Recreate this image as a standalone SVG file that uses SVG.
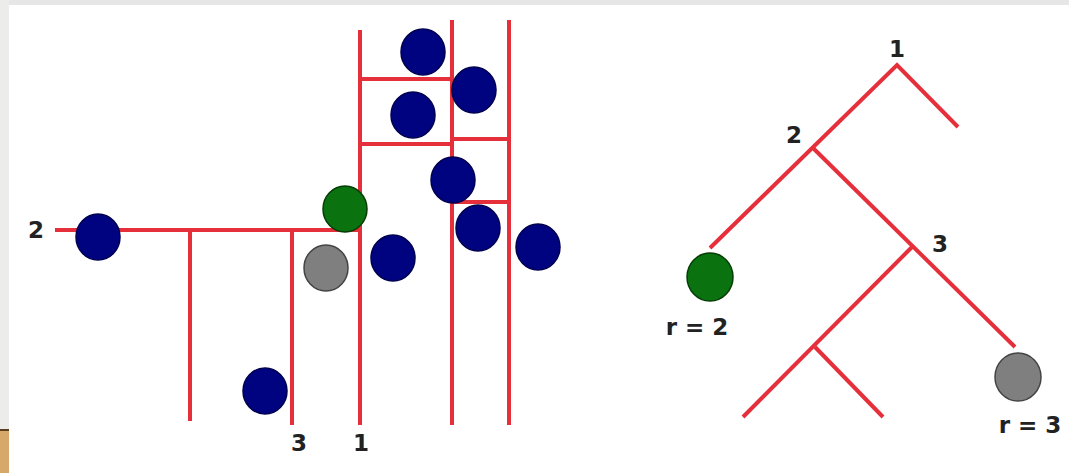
<svg xmlns="http://www.w3.org/2000/svg" width="1069" height="473" viewBox="0 0 1069 473">
<style>
.ln{stroke:#e5303c;stroke-width:4;fill:none;stroke-linecap:butt}
.blue{fill:#00037f;stroke:#000050;stroke-width:1.5}
.green{fill:#0a730f;stroke:#043d06;stroke-width:1.5}
.gray{fill:#7f7f7f;stroke:#444;stroke-width:1.5}
.lbl{font-family:"DejaVu Sans",sans-serif;font-weight:bold;font-size:23px;fill:#222;text-anchor:middle}
</style>
<rect width="1069" height="473" fill="#ffffff"/>
<rect x="0" y="0" width="1069" height="5" fill="#e6e6e6"/>
<rect x="0" y="0" width="9" height="473" fill="#ececea"/>
<rect x="0" y="430" width="9" height="43" fill="#d6a96a"/>
<rect x="0" y="429" width="9" height="2" fill="#5a4020"/>
<g id="connectors">
<line class="ln" x1="360" y1="30" x2="360" y2="425"/>
<line class="ln" x1="452" y1="20" x2="452" y2="425"/>
<line class="ln" x1="509" y1="20" x2="509" y2="425"/>
<line class="ln" x1="360" y1="79" x2="452" y2="79"/>
<line class="ln" x1="360" y1="144" x2="452" y2="144"/>
<line class="ln" x1="452" y1="139" x2="509" y2="139"/>
<line class="ln" x1="452" y1="202" x2="509" y2="202"/>
<line class="ln" x1="55" y1="230" x2="360" y2="230"/>
<line class="ln" x1="190" y1="230" x2="190" y2="421"/>
<line class="ln" x1="292" y1="230" x2="292" y2="425"/>
<polyline class="ln" points="710,248 897,65 958,127"/>
<polyline class="ln" points="813,148 1015,347"/>
<polyline class="ln" points="743,417 912,247"/>
<polyline class="ln" points="815,347 883,417"/>
</g>
<g id="points">
<ellipse class="blue" cx="423" cy="52" rx="22" ry="23"/>
<ellipse class="blue" cx="474" cy="90" rx="22" ry="23"/>
<ellipse class="blue" cx="413" cy="115" rx="22" ry="23"/>
<ellipse class="blue" cx="453" cy="180" rx="22" ry="23"/>
<ellipse class="blue" cx="478" cy="228" rx="22" ry="23"/>
<ellipse class="blue" cx="538" cy="247" rx="22" ry="23"/>
<ellipse class="blue" cx="393" cy="258" rx="22" ry="23"/>
<ellipse class="blue" cx="98" cy="237" rx="22" ry="23"/>
<ellipse class="blue" cx="265" cy="391" rx="22" ry="23"/>
<ellipse class="green" cx="345" cy="209" rx="22" ry="23"/>
<ellipse class="gray" cx="326" cy="268" rx="22" ry="23"/>
</g>
<g id="labels-left">
<text class="lbl" x="36" y="238">2</text>
<text class="lbl" x="299" y="451">3</text>
<text class="lbl" x="361" y="451">1</text>
</g>
<g id="tree-node-1"><text class="lbl" x="897" y="57">1</text></g>
<g id="tree-node-2"><text class="lbl" x="794" y="143">2</text></g>
<g id="tree-node-3"><text class="lbl" x="940" y="252">3</text></g>
<g id="leaf-green">
<ellipse class="green" cx="710" cy="277" rx="23" ry="24"/>
<text class="lbl" x="697" y="335">r = 2</text>
</g>
<g id="leaf-gray">
<ellipse class="gray" cx="1018" cy="377" rx="23" ry="24"/>
<text class="lbl" x="1030" y="433">r = 3</text>
</g>
</svg>
